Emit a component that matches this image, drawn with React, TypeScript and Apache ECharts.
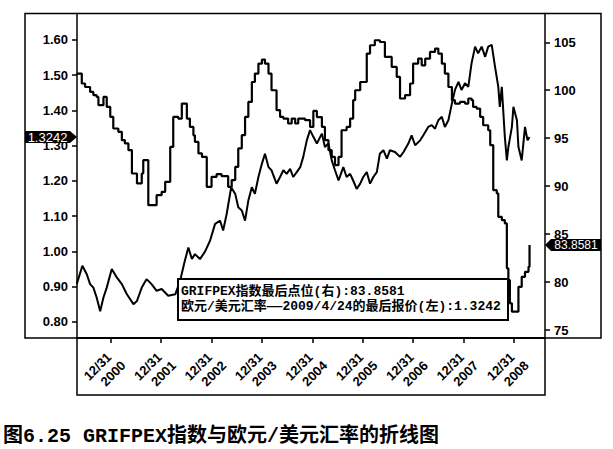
import React, { useEffect, useRef } from "react";
import * as echarts from "echarts";

// GRIFPEX index (right axis), time in decimal years, step values
const G_T = [2000.325, 2000.425, 2000.49, 2000.59, 2000.655, 2000.72, 2000.755, 2000.855, 2000.92, 2000.99, 2001.05, 2001.15, 2001.22, 2001.28, 2001.35, 2001.42, 2001.52, 2001.615, 2001.645, 2001.745, 2001.91, 2002.01, 2002.08, 2002.18, 2002.24, 2002.34, 2002.41, 2002.51, 2002.57, 2002.64, 2002.67, 2002.74, 2002.81, 2002.905, 2003.0, 2003.1, 2003.2, 2003.33, 2003.4, 2003.47, 2003.53, 2003.6, 2003.665, 2003.73, 2003.8, 2003.86, 2003.93, 2004.0, 2004.06, 2004.13, 2004.19, 2004.29, 2004.36, 2004.425, 2004.52, 2004.59, 2004.66, 2004.72, 2004.855, 2004.955, 2005.02, 2005.09, 2005.19, 2005.25, 2005.32, 2005.385, 2005.45, 2005.52, 2005.58, 2005.68, 2005.75, 2005.81, 2005.85, 2005.95, 2006.08, 2006.145, 2006.24, 2006.34, 2006.44, 2006.575, 2006.675, 2006.74, 2006.84, 2006.94, 2007.0, 2007.1, 2007.17, 2007.24, 2007.335, 2007.435, 2007.5, 2007.57, 2007.63, 2007.7, 2007.77, 2007.83, 2007.93, 2008.03, 2008.095, 2008.16, 2008.19, 2008.26, 2008.33, 2008.39, 2008.49, 2008.53, 2008.59, 2008.66, 2008.69, 2008.76, 2008.82, 2008.86, 2008.89, 2008.92, 2008.96, 2009.09, 2009.155, 2009.22, 2009.29, 2009.31];
const G_V = [101.74, 100.7, 100.34, 99.82, 99.48, 99.3, 98.44, 99.3, 98.26, 97.22, 96.01, 95.66, 94.79, 94.45, 93.75, 91.32, 90.28, 91.32, 92.71, 88.02, 89.06, 89.41, 90.45, 94.09, 97.22, 97.05, 98.61, 97.05, 96.18, 95.3, 94.61, 93.41, 93.05, 89.93, 90.97, 91.25, 91.04, 89.93, 90.63, 92.01, 93.93, 95.31, 97.22, 98.78, 100.86, 101.74, 102.78, 103.2, 102.78, 101.74, 100.0, 97.92, 97.22, 97.05, 96.53, 97.05, 96.53, 97.05, 96.88, 96.18, 97.84, 97.2, 96.18, 94.79, 93.75, 93.05, 92.19, 93.05, 95.83, 96.18, 97.05, 98.96, 100.0, 100.86, 103.82, 104.69, 105.21, 105.03, 103.47, 102.43, 101.39, 99.14, 99.48, 100.7, 102.78, 103.3, 102.6, 103.3, 103.99, 104.34, 103.82, 102.78, 101.74, 100.34, 98.96, 98.61, 98.78, 98.61, 99.14, 98.96, 98.26, 98.09, 97.22, 96.35, 95.83, 94.27, 89.58, 89.24, 86.8, 86.46, 86.11, 81.43, 80.21, 77.78, 76.91, 79.51, 80.55, 81.07, 81.59, 83.8581];

// EUR/USD (left axis)
const E_T = [2000.325, 2000.437, 2000.524, 2000.59, 2000.655, 2000.72, 2000.79, 2000.855, 2000.92, 2001.02, 2001.12, 2001.22, 2001.32, 2001.45, 2001.52, 2001.615, 2001.71, 2001.81, 2001.91, 2002.01, 2002.14, 2002.28, 2002.375, 2002.47, 2002.54, 2002.61, 2002.67, 2002.77, 2002.87, 2002.97, 2003.07, 2003.17, 2003.23, 2003.3, 2003.39, 2003.47, 2003.53, 2003.6, 2003.665, 2003.73, 2003.8, 2003.86, 2003.93, 2004.0, 2004.06, 2004.13, 2004.19, 2004.29, 2004.36, 2004.425, 2004.49, 2004.56, 2004.62, 2004.69, 2004.76, 2004.82, 2004.89, 2004.955, 2005.02, 2005.09, 2005.19, 2005.25, 2005.32, 2005.385, 2005.45, 2005.52, 2005.615, 2005.68, 2005.75, 2005.81, 2005.88, 2005.95, 2006.01, 2006.08, 2006.145, 2006.21, 2006.28, 2006.34, 2006.41, 2006.48, 2006.54, 2006.64, 2006.74, 2006.81, 2006.905, 2006.97, 2007.04, 2007.14, 2007.2, 2007.3, 2007.37, 2007.435, 2007.5, 2007.57, 2007.63, 2007.7, 2007.77, 2007.83, 2007.9, 2007.96, 2008.03, 2008.095, 2008.16, 2008.23, 2008.29, 2008.36, 2008.43, 2008.49, 2008.56, 2008.625, 2008.69, 2008.72, 2008.76, 2008.82, 2008.86, 2008.89, 2008.96, 2008.99, 2009.06, 2009.09, 2009.155, 2009.22, 2009.27, 2009.31];
const E_V = [0.907, 0.959, 0.935, 0.907, 0.897, 0.869, 0.83, 0.869, 0.897, 0.95, 0.926, 0.907, 0.878, 0.85, 0.859, 0.897, 0.921, 0.907, 0.888, 0.893, 0.874, 0.878, 0.916, 0.973, 1.011, 0.978, 0.992, 0.978, 0.999, 1.03, 1.078, 1.087, 1.059, 1.106, 1.182, 1.163, 1.125, 1.116, 1.087, 1.144, 1.182, 1.163, 1.211, 1.249, 1.277, 1.239, 1.23, 1.192, 1.211, 1.23, 1.22, 1.234, 1.211, 1.225, 1.239, 1.268, 1.315, 1.344, 1.325, 1.306, 1.334, 1.296, 1.306, 1.258, 1.23, 1.201, 1.239, 1.211, 1.22, 1.201, 1.177, 1.192, 1.211, 1.225, 1.192, 1.211, 1.225, 1.277, 1.287, 1.263, 1.287, 1.282, 1.268, 1.282, 1.306, 1.329, 1.301, 1.315, 1.329, 1.353, 1.358, 1.348, 1.372, 1.382, 1.353, 1.372, 1.42, 1.458, 1.481, 1.458, 1.477, 1.467, 1.534, 1.581, 1.562, 1.581, 1.552, 1.581, 1.586, 1.524, 1.467, 1.41, 1.467, 1.325, 1.258, 1.296, 1.353, 1.41, 1.372, 1.296, 1.258, 1.353, 1.315, 1.3242];

const X_TICKS = [2001, 2002, 2003, 2004, 2005, 2006, 2007, 2008, 2009];
const X_TICK_DAY = "12/31";
const X_TICK_YEARS = ["2000", "2001", "2002", "2003", "2004", "2005", "2006", "2007", "2008"];
const LEFT_TICKS = [0.8, 0.9, 1.0, 1.1, 1.2, 1.3, 1.4, 1.5, 1.6];
const RIGHT_TICKS = [75, 80, 85, 90, 95, 100, 105];

const LAST_EUR = "1.3242";
const LAST_GRIF = "83.8581";
const LEGEND_1 = "GRIFPEX指数最后点位(右):83.8581";
const LEGEND_2 = "欧元/美元汇率——2009/4/24的最后报价(左):1.3242";
const CAPTION = "图6.25 GRIFPEX指数与欧元/美元汇率的折线图";

const AX_FONT = "'Liberation Sans', Arial, sans-serif";
const MIX_FONT = "'Liberation Mono', 'Noto Sans CJK SC', monospace";

export default function App() {
  const ref = useRef<HTMLDivElement>(null);
  useEffect(() => {
    document.body.style.margin = "0";
    const chart = echarts.init(ref.current!, null, { renderer: "svg" });
    const axisLineStyle = { color: "#000", width: 1.5 };
    chart.setOption({
      animation: false,
      backgroundColor: "#fff",
      grid: { left: 77, right: 68, top: 13.5, bottom: 111 },
      xAxis: {
        type: "value",
        min: 2000.33,
        max: 2009.617,
        axisLine: { show: true, lineStyle: axisLineStyle },
        axisTick: { show: true, customValues: X_TICKS, length: 5, lineStyle: axisLineStyle },
        axisLabel: { show: false },
        splitLine: { show: false },
      },
      yAxis: [
        {
          type: "value",
          position: "left",
          min: 0.754,
          max: 1.675,
          axisLine: { show: true, lineStyle: axisLineStyle },
          axisTick: { show: true, customValues: LEFT_TICKS, length: 5, lineStyle: axisLineStyle },
          axisLabel: {
            customValues: LEFT_TICKS,
            margin: 9,
            color: "#000",
            fontSize: 13,
            fontWeight: "bold",
            fontFamily: AX_FONT,
            formatter: (v: number) => v.toFixed(2),
          },
          splitLine: { show: false },
        },
        {
          type: "value",
          position: "right",
          min: 74.17,
          max: 108.0,
          axisLine: { show: true, lineStyle: axisLineStyle },
          axisTick: { show: true, customValues: RIGHT_TICKS, length: 5, lineStyle: axisLineStyle },
          axisLabel: {
            customValues: RIGHT_TICKS,
            margin: 9,
            color: "#000",
            fontSize: 13,
            fontWeight: "bold",
            fontFamily: AX_FONT,
            formatter: (v: number) => String(v),
          },
          splitLine: { show: false },
        },
      ],
      series: [
        {
          name: "GRIFPEX",
          type: "line",
          yAxisIndex: 1,
          step: "end",
          showSymbol: false,
          lineStyle: { color: "#000", width: 2.2 },
          data: G_T.map((t, i) => [t, G_V[i]]),
        },
        {
          name: "EURUSD",
          type: "line",
          yAxisIndex: 0,
          showSymbol: false,
          lineStyle: { color: "#000", width: 2 },
          data: E_T.map((t, i) => [t, E_V[i]]),
        },
      ],
    });

    const yL = chart.convertToPixel({ yAxisIndex: 0 }, E_V[E_V.length - 1]) as number;
    const yR = chart.convertToPixel({ yAxisIndex: 1 }, G_V[G_V.length - 1]) as number;
    const xFont = "bold 13px " + AX_FONT;
    const xLabels = X_TICKS.map((t, i) => {
      const px = chart.convertToPixel({ xAxisIndex: 0 }, t) as number;
      return {
        type: "group",
        x: px - 5.5,
        y: 370,
        rotation: Math.PI / 4,
        z: 55,
        children: [
          { type: "text", x: -3, y: -8, style: { text: X_TICK_DAY, fill: "#000", font: xFont, align: "center", verticalAlign: "middle" } },
          { type: "text", x: 3, y: 8, style: { text: X_TICK_YEARS[i], fill: "#000", font: xFont, align: "center", verticalAlign: "middle" } },
        ],
      };
    });

    chart.setOption({
      graphic: [
        { type: "rect", z: 50, shape: { x: 25, y: 13.5, width: 576, height: 324.5 }, style: { fill: "none", stroke: "#000", lineWidth: 1.5 } },
        { type: "rect", z: 50, shape: { x: 77, y: 338, width: 468, height: 57 }, style: { fill: "none", stroke: "#000", lineWidth: 1.5 } },
        ...xLabels,
        { type: "rect", z: 60, shape: { x: 178, y: 279, width: 330, height: 41 }, style: { fill: "#fff", stroke: "#000", lineWidth: 2 } },
        { type: "text", z: 61, x: 181, y: 291, style: { text: LEGEND_1, fill: "#000", font: "bold 13px " + MIX_FONT, verticalAlign: "middle" } },
        { type: "text", z: 61, x: 181, y: 306.5, style: { text: LEGEND_2, fill: "#000", font: "bold 13px " + MIX_FONT, verticalAlign: "middle" } },
        { type: "polygon", z: 62, shape: { points: [[25, yL - 6], [70, yL - 6], [77, yL], [70, yL + 6], [25, yL + 6]] }, style: { fill: "#000" } },
        { type: "text", z: 63, x: 47.5, y: yL, style: { text: LAST_EUR, fill: "#fff", font: "13px " + AX_FONT, align: "center", verticalAlign: "middle" } },
        { type: "polygon", z: 62, shape: { points: [[545, yR], [551, yR - 6], [601, yR - 6], [601, yR + 6], [551, yR + 6]] }, style: { fill: "#000" } },
        { type: "text", z: 63, x: 576, y: yR, style: { text: LAST_GRIF, fill: "#fff", font: "12px " + AX_FONT, align: "center", verticalAlign: "middle" } },
        { type: "text", z: 63, x: 3, y: 436, style: { text: CAPTION, fill: "#000", font: "bold 20px " + MIX_FONT, verticalAlign: "middle" } },
      ],
    });

    return () => chart.dispose();
  }, []);
  return <div ref={ref} style={{ width: 613, height: 449 }} />;
}
